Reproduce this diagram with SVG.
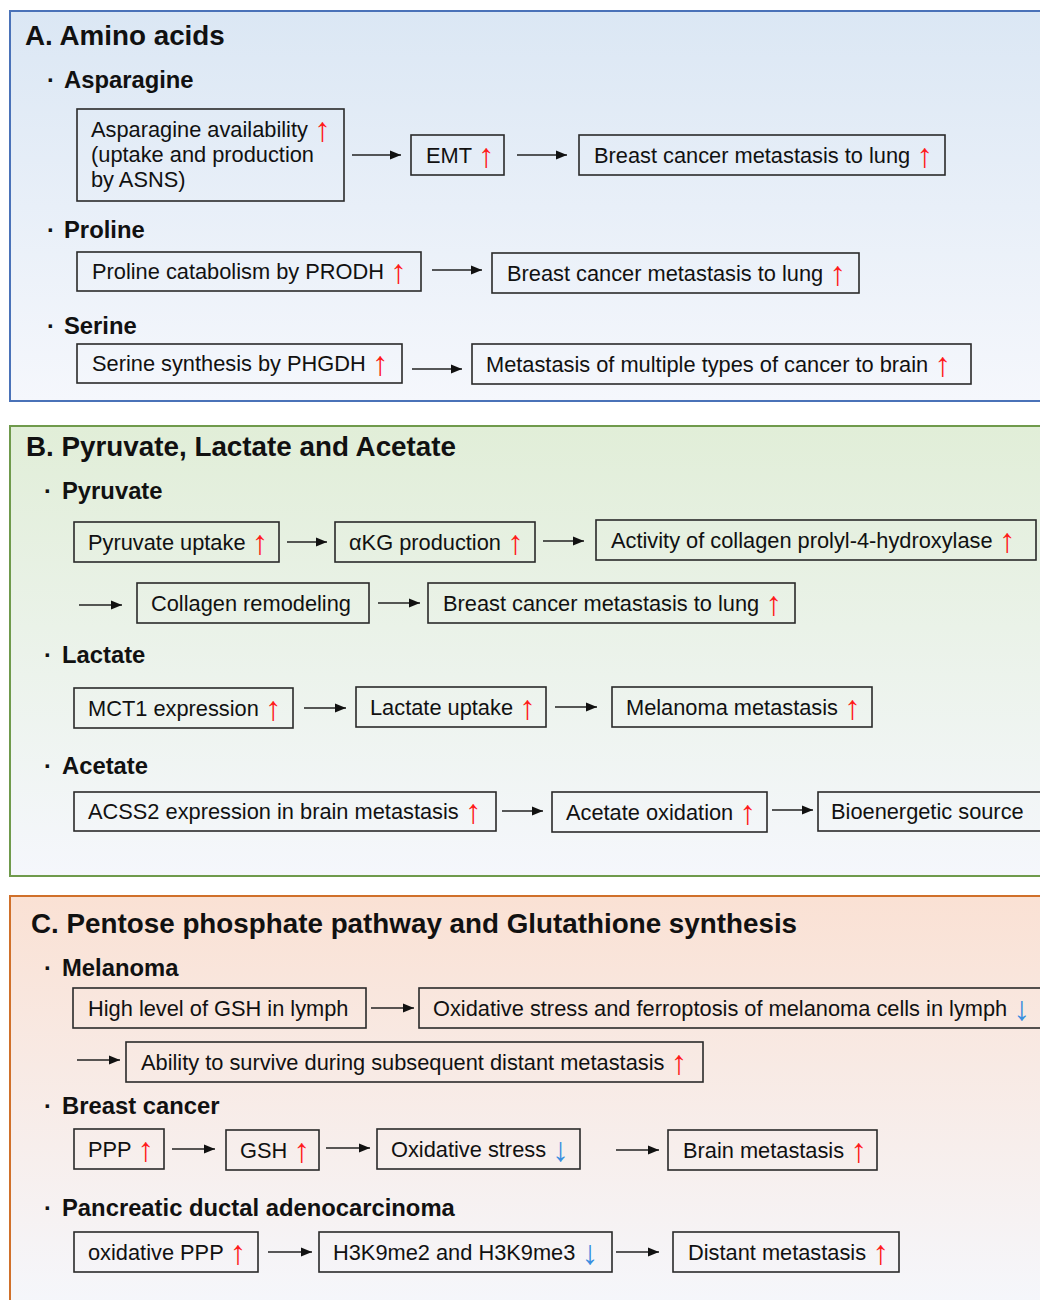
<svg xmlns="http://www.w3.org/2000/svg" width="1040" height="1300" viewBox="0 0 1040 1300">
<style>
text{font-family:"Liberation Sans",Arial,sans-serif;fill:#111}
.t{font-size:27.8px;font-weight:bold}
.h{font-size:23.8px;font-weight:bold}
.b{font-size:21.8px}
.bx{fill:none;stroke:#2a2a2a;stroke-width:1.6}
.up{fill:#ff1a1a;font-size:34px}
.dn{fill:#3a8ee0;font-size:34px}
.c line{stroke:#222;stroke-width:1.4;marker-end:url(#ah)}
</style>
<defs>
<marker id="ah" markerUnits="userSpaceOnUse" markerWidth="12" markerHeight="10" refX="11" refY="5" orient="auto"><path d="M0,0.5 L11,5 L0,9.5 z" fill="#111"/></marker>
<linearGradient id="gA" x1="0" y1="0" x2="0" y2="1"><stop offset="0" stop-color="#dbe7f4"/><stop offset="1" stop-color="#f5f7fc"/></linearGradient>
<linearGradient id="gB" x1="0" y1="0" x2="0" y2="1"><stop offset="0" stop-color="#e1eed8"/><stop offset="1" stop-color="#f5f7fc"/></linearGradient>
<linearGradient id="gC" x1="0" y1="0" x2="0" y2="1"><stop offset="0" stop-color="#fae1d4"/><stop offset="1" stop-color="#f5f7fc"/></linearGradient>
</defs>
<rect width="1040" height="1300" fill="#fff"/>

<g id="panelA">
<rect x="10" y="11" width="1045" height="390" fill="url(#gA)" stroke="#4a72b8" stroke-width="2"/>
<text class="t" x="25" y="45">A. Amino acids</text>
<text class="h" x="47" y="88">· <tspan x="64">Asparagine</tspan></text>
<text class="h" x="47" y="238">· <tspan x="64">Proline</tspan></text>
<text class="h" x="47" y="334">· <tspan x="64">Serine</tspan></text>
</g>
<g id="panelB">
<rect x="10" y="426" width="1045" height="450" fill="url(#gB)" stroke="#6f9a4c" stroke-width="2"/>
<text class="t" x="26" y="456">B. Pyruvate, Lactate and Acetate</text>
<text class="h" x="44" y="499">· <tspan x="62">Pyruvate</tspan></text>
<text class="h" x="44" y="663">· <tspan x="62">Lactate</tspan></text>
<text class="h" x="44" y="774">· <tspan x="62">Acetate</tspan></text>
</g>
<g id="panelC">
<rect x="10" y="896" width="1045" height="420" fill="url(#gC)" stroke="#d0702a" stroke-width="2"/>
<text class="t" x="31" y="933">C. Pentose phosphate pathway and Glutathione synthesis</text>
<text class="h" x="44" y="976">· <tspan x="62">Melanoma</tspan></text>
<text class="h" x="44" y="1114">· <tspan x="62">Breast cancer</tspan></text>
<text class="h" x="44" y="1216">· <tspan x="62">Pancreatic ductal adenocarcinoma</tspan></text>
</g>

<g id="connectors" class="c">
<line x1="352" y1="155" x2="401" y2="155"/>
<line x1="517" y1="155" x2="567" y2="155"/>
<line x1="432" y1="270" x2="482" y2="270"/>
<line x1="412" y1="369" x2="462" y2="369"/>
<line x1="287" y1="542" x2="327" y2="542"/>
<line x1="543" y1="541" x2="584" y2="541"/>
<line x1="79" y1="605" x2="122" y2="605"/>
<line x1="378" y1="603" x2="420" y2="603"/>
<line x1="304" y1="708" x2="346" y2="708"/>
<line x1="555" y1="707" x2="597" y2="707"/>
<line x1="502" y1="811" x2="543" y2="811"/>
<line x1="772" y1="810" x2="813" y2="810"/>
<line x1="371" y1="1008" x2="414" y2="1008"/>
<line x1="77" y1="1060" x2="120" y2="1060"/>
<line x1="172" y1="1149" x2="215" y2="1149"/>
<line x1="326" y1="1148" x2="370" y2="1148"/>
<line x1="616" y1="1150" x2="659" y2="1150"/>
<line x1="268" y1="1252" x2="312" y2="1252"/>
<line x1="616" y1="1252" x2="659" y2="1252"/>
</g>

<g id="n-asn"><rect class="bx" x="77" y="109" width="267" height="92"/>
<text class="b" x="91" y="137">Asparagine availability <tspan class="up" dy="4">↑</tspan></text>
<text class="b" x="91" y="162">(uptake and production</text>
<text class="b" x="91" y="187">by ASNS)</text></g>
<g id="n-emt"><rect class="bx" x="411" y="135" width="93" height="40"/><text class="b" x="426" y="163">EMT <tspan class="up" dy="4">↑</tspan></text></g>
<g id="n-bclung1"><rect class="bx" x="579" y="135" width="366" height="40"/><text class="b" x="594" y="163">Breast cancer metastasis to lung <tspan class="up" dy="4">↑</tspan></text></g>
<g id="n-prodh"><rect class="bx" x="77" y="252" width="344" height="39"/><text class="b" x="92" y="279">Proline catabolism by PRODH <tspan class="up" dy="4">↑</tspan></text></g>
<g id="n-bclung2"><rect class="bx" x="492" y="253" width="367" height="40"/><text class="b" x="507" y="281">Breast cancer metastasis to lung <tspan class="up" dy="4">↑</tspan></text></g>
<g id="n-phgdh"><rect class="bx" x="77" y="344" width="325" height="39"/><text class="b" x="92" y="371">Serine synthesis by PHGDH <tspan class="up" dy="4">↑</tspan></text></g>
<g id="n-brain"><rect class="bx" x="472" y="344" width="499" height="40"/><text class="b" x="486" y="372">Metastasis of multiple types of cancer to brain <tspan class="up" dy="4">↑</tspan></text></g>

<g id="n-pyr"><rect class="bx" x="74" y="522" width="205" height="40"/><text class="b" x="88" y="550">Pyruvate uptake <tspan class="up" dy="4">↑</tspan></text></g>
<g id="n-akg"><rect class="bx" x="335" y="522" width="200" height="40"/><text class="b" x="349" y="550">αKG production <tspan class="up" dy="4">↑</tspan></text></g>
<g id="n-p4h"><rect class="bx" x="596" y="520" width="440" height="40"/><text class="b" x="611" y="548">Activity of collagen prolyl-4-hydroxylase <tspan class="up" dy="4">↑</tspan></text></g>
<g id="n-coll"><rect class="bx" x="137" y="583" width="232" height="40"/><text class="b" x="151" y="611">Collagen remodeling</text></g>
<g id="n-bclung3"><rect class="bx" x="428" y="583" width="367" height="40"/><text class="b" x="443" y="611">Breast cancer metastasis to lung <tspan class="up" dy="4">↑</tspan></text></g>
<g id="n-mct1"><rect class="bx" x="74" y="688" width="219" height="40"/><text class="b" x="88" y="716">MCT1 expression <tspan class="up" dy="4">↑</tspan></text></g>
<g id="n-lac"><rect class="bx" x="356" y="687" width="190" height="40"/><text class="b" x="370" y="715">Lactate uptake <tspan class="up" dy="4">↑</tspan></text></g>
<g id="n-mel"><rect class="bx" x="612" y="687" width="260" height="40"/><text class="b" x="626" y="715">Melanoma metastasis <tspan class="up" dy="4">↑</tspan></text></g>
<g id="n-acss2"><rect class="bx" x="74" y="792" width="422" height="39"/><text class="b" x="88" y="819">ACSS2 expression in brain metastasis <tspan class="up" dy="4">↑</tspan></text></g>
<g id="n-aco"><rect class="bx" x="552" y="792" width="215" height="40"/><text class="b" x="566" y="820">Acetate oxidation <tspan class="up" dy="4">↑</tspan></text></g>
<g id="n-bio"><rect class="bx" x="818" y="792" width="230" height="39"/><text class="b" x="831" y="819">Bioenergetic source</text></g>

<g id="n-gsh-lymph"><rect class="bx" x="73" y="988" width="293" height="40"/><text class="b" x="88" y="1016">High level of GSH in lymph</text></g>
<g id="n-ferro"><rect class="bx" x="419" y="988" width="630" height="40"/><text class="b" x="433" y="1016">Oxidative stress and ferroptosis of melanoma cells in lymph <tspan class="dn" dy="4">↓</tspan></text></g>
<g id="n-surv"><rect class="bx" x="126" y="1042" width="577" height="40"/><text class="b" x="141" y="1070">Ability to survive during subsequent distant metastasis <tspan class="up" dy="4">↑</tspan></text></g>
<g id="n-ppp"><rect class="bx" x="74" y="1129" width="90" height="40"/><text class="b" x="88" y="1157">PPP <tspan class="up" dy="4">↑</tspan></text></g>
<g id="n-gsh"><rect class="bx" x="226" y="1130" width="93" height="40"/><text class="b" x="240" y="1158">GSH <tspan class="up" dy="4">↑</tspan></text></g>
<g id="n-ox"><rect class="bx" x="377" y="1129" width="203" height="40"/><text class="b" x="391" y="1157">Oxidative stress <tspan class="dn" dy="4">↓</tspan></text></g>
<g id="n-bm"><rect class="bx" x="668" y="1130" width="209" height="40"/><text class="b" x="683" y="1158">Brain metastasis <tspan class="up" dy="4">↑</tspan></text></g>
<g id="n-oppp"><rect class="bx" x="74" y="1232" width="184" height="40"/><text class="b" x="88" y="1260">oxidative PPP <tspan class="up" dy="4">↑</tspan></text></g>
<g id="n-h3k9"><rect class="bx" x="319" y="1232" width="293" height="40"/><text class="b" x="333" y="1260">H3K9me2 and H3K9me3 <tspan class="dn" dy="4">↓</tspan></text></g>
<g id="n-dm"><rect class="bx" x="673" y="1232" width="226" height="40"/><text class="b" x="688" y="1260">Distant metastasis <tspan class="up" dy="4">↑</tspan></text></g>
</svg>
